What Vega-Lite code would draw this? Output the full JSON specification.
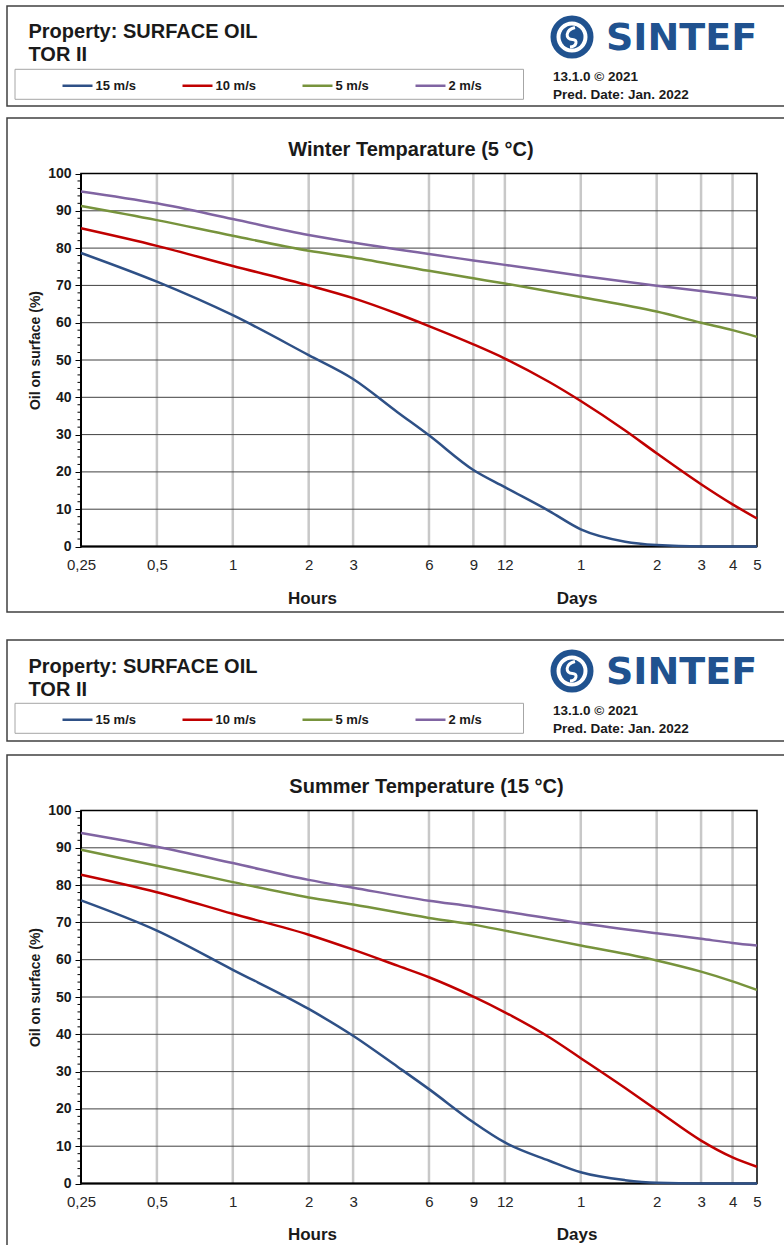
{
  "$schema": "https://vega.github.io/schema/vega-lite/v6.json",
  "padding": {"left": 6, "top": 5, "right": 0, "bottom": 0},
  "background": "white",
  "config": {
    "font": "Liberation Sans",
    "view": {"stroke": "#404040", "strokeWidth": 1.5}
  },
  "datasets": {
    "header": [{"prop": "Property: SURFACE OIL", "oil": "TOR II", "version": "13.1.0 © 2021", "pred": "Pred. Date: Jan. 2022", "logo": "SINTEF"}],
    "one": [{"k": 1}],
    "vgrid": [{"t": 0.5}, {"t": 1}, {"t": 2}, {"t": 3}, {"t": 6}, {"t": 9}, {"t": 12}, {"t": 24}, {"t": 48}, {"t": 72}, {"t": 96}],
    "hgrid": [{"v": 10}, {"v": 20}, {"v": 30}, {"v": 40}, {"v": 50}, {"v": 60}, {"v": 70}, {"v": 80}, {"v": 90}],
    "minor": [{"v": 2}, {"v": 4}, {"v": 6}, {"v": 8}, {"v": 12}, {"v": 14}, {"v": 16}, {"v": 18}, {"v": 22}, {"v": 24}, {"v": 26}, {"v": 28}, {"v": 32}, {"v": 34}, {"v": 36}, {"v": 38}, {"v": 42}, {"v": 44}, {"v": 46}, {"v": 48}, {"v": 52}, {"v": 54}, {"v": 56}, {"v": 58}, {"v": 62}, {"v": 64}, {"v": 66}, {"v": 68}, {"v": 72}, {"v": 74}, {"v": 76}, {"v": 78}, {"v": 82}, {"v": 84}, {"v": 86}, {"v": 88}, {"v": 92}, {"v": 94}, {"v": 96}, {"v": 98}],
    "winter": [
      {"wind": "15 m/s", "t": 0.25, "oil": 78.7}, {"wind": "15 m/s", "t": 0.5, "oil": 71.0}, {"wind": "15 m/s", "t": 1, "oil": 62.0}, {"wind": "15 m/s", "t": 2, "oil": 51.3}, {"wind": "15 m/s", "t": 3, "oil": 44.9}, {"wind": "15 m/s", "t": 4.5, "oil": 36.0}, {"wind": "15 m/s", "t": 6, "oil": 29.8}, {"wind": "15 m/s", "t": 9, "oil": 20.5}, {"wind": "15 m/s", "t": 12, "oil": 15.9}, {"wind": "15 m/s", "t": 18, "oil": 9.5}, {"wind": "15 m/s", "t": 24, "oil": 4.6}, {"wind": "15 m/s", "t": 36, "oil": 1.3}, {"wind": "15 m/s", "t": 48, "oil": 0.4}, {"wind": "15 m/s", "t": 72, "oil": 0}, {"wind": "15 m/s", "t": 96, "oil": 0}, {"wind": "15 m/s", "t": 120, "oil": 0},
      {"wind": "10 m/s", "t": 0.25, "oil": 85.3}, {"wind": "10 m/s", "t": 0.5, "oil": 80.6}, {"wind": "10 m/s", "t": 1, "oil": 75.2}, {"wind": "10 m/s", "t": 2, "oil": 70.0}, {"wind": "10 m/s", "t": 3, "oil": 66.6}, {"wind": "10 m/s", "t": 4.5, "oil": 62.4}, {"wind": "10 m/s", "t": 6, "oil": 59.1}, {"wind": "10 m/s", "t": 9, "oil": 54.2}, {"wind": "10 m/s", "t": 12, "oil": 50.4}, {"wind": "10 m/s", "t": 18, "oil": 44.1}, {"wind": "10 m/s", "t": 24, "oil": 39.0}, {"wind": "10 m/s", "t": 36, "oil": 31.1}, {"wind": "10 m/s", "t": 48, "oil": 25.0}, {"wind": "10 m/s", "t": 72, "oil": 16.7}, {"wind": "10 m/s", "t": 96, "oil": 11.3}, {"wind": "10 m/s", "t": 120, "oil": 7.5},
      {"wind": "5 m/s", "t": 0.25, "oil": 91.3}, {"wind": "5 m/s", "t": 0.5, "oil": 87.5}, {"wind": "5 m/s", "t": 1, "oil": 83.3}, {"wind": "5 m/s", "t": 2, "oil": 79.3}, {"wind": "5 m/s", "t": 3, "oil": 77.5}, {"wind": "5 m/s", "t": 6, "oil": 73.9}, {"wind": "5 m/s", "t": 9, "oil": 71.9}, {"wind": "5 m/s", "t": 12, "oil": 70.5}, {"wind": "5 m/s", "t": 24, "oil": 66.9}, {"wind": "5 m/s", "t": 48, "oil": 63.0}, {"wind": "5 m/s", "t": 72, "oil": 60.0}, {"wind": "5 m/s", "t": 96, "oil": 58.0}, {"wind": "5 m/s", "t": 120, "oil": 56.2},
      {"wind": "2 m/s", "t": 0.25, "oil": 95.2}, {"wind": "2 m/s", "t": 0.5, "oil": 92.0}, {"wind": "2 m/s", "t": 1, "oil": 87.8}, {"wind": "2 m/s", "t": 2, "oil": 83.5}, {"wind": "2 m/s", "t": 3, "oil": 81.5}, {"wind": "2 m/s", "t": 6, "oil": 78.4}, {"wind": "2 m/s", "t": 9, "oil": 76.7}, {"wind": "2 m/s", "t": 12, "oil": 75.5}, {"wind": "2 m/s", "t": 24, "oil": 72.6}, {"wind": "2 m/s", "t": 48, "oil": 69.9}, {"wind": "2 m/s", "t": 72, "oil": 68.5}, {"wind": "2 m/s", "t": 96, "oil": 67.4}, {"wind": "2 m/s", "t": 120, "oil": 66.6}
    ],
    "summer": [
      {"wind": "15 m/s", "t": 0.25, "oil": 75.9}, {"wind": "15 m/s", "t": 0.5, "oil": 67.8}, {"wind": "15 m/s", "t": 1, "oil": 57.3}, {"wind": "15 m/s", "t": 2, "oil": 46.8}, {"wind": "15 m/s", "t": 3, "oil": 39.6}, {"wind": "15 m/s", "t": 4.5, "oil": 31.3}, {"wind": "15 m/s", "t": 6, "oil": 25.3}, {"wind": "15 m/s", "t": 9, "oil": 16.4}, {"wind": "15 m/s", "t": 12, "oil": 11.0}, {"wind": "15 m/s", "t": 18, "oil": 6.1}, {"wind": "15 m/s", "t": 24, "oil": 3.0}, {"wind": "15 m/s", "t": 36, "oil": 0.9}, {"wind": "15 m/s", "t": 48, "oil": 0.2}, {"wind": "15 m/s", "t": 72, "oil": 0}, {"wind": "15 m/s", "t": 96, "oil": 0}, {"wind": "15 m/s", "t": 120, "oil": 0},
      {"wind": "10 m/s", "t": 0.25, "oil": 82.8}, {"wind": "10 m/s", "t": 0.5, "oil": 78.1}, {"wind": "10 m/s", "t": 1, "oil": 72.3}, {"wind": "10 m/s", "t": 2, "oil": 66.7}, {"wind": "10 m/s", "t": 3, "oil": 62.7}, {"wind": "10 m/s", "t": 4.5, "oil": 58.4}, {"wind": "10 m/s", "t": 6, "oil": 55.3}, {"wind": "10 m/s", "t": 9, "oil": 50.1}, {"wind": "10 m/s", "t": 12, "oil": 45.9}, {"wind": "10 m/s", "t": 18, "oil": 39.2}, {"wind": "10 m/s", "t": 24, "oil": 33.6}, {"wind": "10 m/s", "t": 36, "oil": 25.6}, {"wind": "10 m/s", "t": 48, "oil": 19.7}, {"wind": "10 m/s", "t": 72, "oil": 11.5}, {"wind": "10 m/s", "t": 96, "oil": 7.0}, {"wind": "10 m/s", "t": 120, "oil": 4.5},
      {"wind": "5 m/s", "t": 0.25, "oil": 89.5}, {"wind": "5 m/s", "t": 0.5, "oil": 85.2}, {"wind": "5 m/s", "t": 1, "oil": 80.8}, {"wind": "5 m/s", "t": 2, "oil": 76.7}, {"wind": "5 m/s", "t": 3, "oil": 74.8}, {"wind": "5 m/s", "t": 6, "oil": 71.2}, {"wind": "5 m/s", "t": 9, "oil": 69.4}, {"wind": "5 m/s", "t": 12, "oil": 67.8}, {"wind": "5 m/s", "t": 24, "oil": 63.8}, {"wind": "5 m/s", "t": 48, "oil": 59.8}, {"wind": "5 m/s", "t": 72, "oil": 56.8}, {"wind": "5 m/s", "t": 96, "oil": 54.2}, {"wind": "5 m/s", "t": 120, "oil": 51.9},
      {"wind": "2 m/s", "t": 0.25, "oil": 94.0}, {"wind": "2 m/s", "t": 0.5, "oil": 90.3}, {"wind": "2 m/s", "t": 1, "oil": 85.9}, {"wind": "2 m/s", "t": 2, "oil": 81.4}, {"wind": "2 m/s", "t": 3, "oil": 79.3}, {"wind": "2 m/s", "t": 6, "oil": 75.8}, {"wind": "2 m/s", "t": 9, "oil": 74.2}, {"wind": "2 m/s", "t": 12, "oil": 72.9}, {"wind": "2 m/s", "t": 24, "oil": 69.8}, {"wind": "2 m/s", "t": 48, "oil": 67.1}, {"wind": "2 m/s", "t": 72, "oil": 65.6}, {"wind": "2 m/s", "t": 96, "oil": 64.5}, {"wind": "2 m/s", "t": 120, "oil": 63.8}
    ]
  },
  "resolve": {"scale": {"color": "independent"}, "legend": {"color": "independent"}},
  "spacing": 26,
  "vconcat": [
    {
      "spacing": 10,
      "vconcat": [
        {
          "width": 778, "height": 100,
          "data": {"name": "header"},
          "layer": [
            {"mark": {"type": "rect", "fill": "white", "fillOpacity": 0, "stroke": "#a6a6a6", "strokeWidth": 1},
             "encoding": {"x": {"datum": 8, "type": "quantitative", "scale": {"domain": [0, 778], "nice": false}, "axis": null}, "x2": {"datum": 516.5},
                          "y": {"datum": 63.3, "type": "quantitative", "scale": {"domain": [0, 100], "nice": false, "reverse": true}, "axis": null}, "y2": {"datum": 93.3}}},
            {"mark": {"type": "text", "fontWeight": "bold", "fontSize": 20, "color": "#1a1a1a", "align": "left", "baseline": "alphabetic"},
             "encoding": {"x": {"datum": 21.5, "type": "quantitative", "scale": {"domain": [0, 778], "nice": false}, "axis": null},
                          "y": {"datum": 32, "type": "quantitative", "scale": {"domain": [0, 100], "nice": false, "reverse": true}, "axis": null},
                          "text": {"field": "prop"}}},
            {"mark": {"type": "text", "fontWeight": "bold", "fontSize": 20, "color": "#1a1a1a", "align": "left", "baseline": "alphabetic"},
             "encoding": {"x": {"datum": 21.5, "type": "quantitative", "scale": {"domain": [0, 778], "nice": false}, "axis": null},
                          "y": {"datum": 55, "type": "quantitative", "scale": {"domain": [0, 100], "nice": false, "reverse": true}, "axis": null},
                          "text": {"field": "oil"}}},
            {"mark": {"type": "point", "shape": "circle", "filled": false, "size": 1369, "stroke": "#20528F", "strokeWidth": 6, "opacity": 1},
             "encoding": {"x": {"datum": 565, "type": "quantitative", "scale": {"domain": [0, 778], "nice": false}, "axis": null},
                          "y": {"datum": 31, "type": "quantitative", "scale": {"domain": [0, 100], "nice": false, "reverse": true}, "axis": null}}},
            {"mark": {"type": "point", "shape": "circle", "filled": true, "size": 529, "color": "#20528F", "opacity": 1},
             "encoding": {"x": {"datum": 565, "type": "quantitative", "scale": {"domain": [0, 778], "nice": false}, "axis": null},
                          "y": {"datum": 31, "type": "quantitative", "scale": {"domain": [0, 100], "nice": false, "reverse": true}, "axis": null}}},
            {"mark": {"type": "point", "shape": "M 0.3 -0.95 C -0.7 -0.7 -0.7 0.25 0.05 0.25 C 0.6 0.25 0.5 0.95 -0.2 1", "filled": false, "size": 400, "stroke": "white", "strokeWidth": 3, "opacity": 1},
             "encoding": {"x": {"datum": 565, "type": "quantitative", "scale": {"domain": [0, 778], "nice": false}, "axis": null},
                          "y": {"datum": 31, "type": "quantitative", "scale": {"domain": [0, 100], "nice": false, "reverse": true}, "axis": null}}},
            {"mark": {"type": "text", "font": "DejaVu Sans", "fontWeight": "bold", "fontSize": 38, "color": "#20528F", "align": "left", "baseline": "alphabetic"},
             "encoding": {"x": {"datum": 599, "type": "quantitative", "scale": {"domain": [0, 778], "nice": false}, "axis": null},
                          "y": {"datum": 44, "type": "quantitative", "scale": {"domain": [0, 100], "nice": false, "reverse": true}, "axis": null},
                          "text": {"field": "logo"}}},
            {"mark": {"type": "text", "fontWeight": "bold", "fontSize": 13.5, "color": "#1a1a1a", "align": "left", "baseline": "alphabetic"},
             "encoding": {"x": {"datum": 546, "type": "quantitative", "scale": {"domain": [0, 778], "nice": false}, "axis": null},
                          "y": {"datum": 74.5, "type": "quantitative", "scale": {"domain": [0, 100], "nice": false, "reverse": true}, "axis": null},
                          "text": {"field": "version"}}},
            {"mark": {"type": "text", "fontWeight": "bold", "fontSize": 13.5, "color": "#1a1a1a", "align": "left", "baseline": "alphabetic"},
             "encoding": {"x": {"datum": 546, "type": "quantitative", "scale": {"domain": [0, 778], "nice": false}, "axis": null},
                          "y": {"datum": 93, "type": "quantitative", "scale": {"domain": [0, 100], "nice": false, "reverse": true}, "axis": null},
                          "text": {"field": "pred"}}}
          ]
        },
        {
          "width": 778, "height": 494,
          "layer": [
            {"data": {"name": "vgrid"}, "mark": {"type": "rule", "color": "#c8c8c8", "strokeWidth": 2.5},
             "encoding": {"x": {"field": "t", "type": "quantitative", "scale": {"type": "log", "domain": [0.12719, 154.97], "nice": false}},
                          "y": {"datum": 0, "type": "quantitative", "scale": {"domain": [-17.56, 114.88], "nice": false, "zero": false}}, "y2": {"datum": 100}}},
            {"data": {"name": "hgrid"}, "mark": {"type": "rule", "color": "#404040", "strokeWidth": 1},
             "encoding": {"y": {"field": "v", "type": "quantitative", "scale": {"domain": [-17.56, 114.88], "nice": false, "zero": false}},
                          "x": {"datum": 0.25, "type": "quantitative", "scale": {"type": "log", "domain": [0.12719, 154.97], "nice": false}}, "x2": {"datum": 120}}},
            {"data": {"name": "minor"}, "mark": {"type": "rule", "color": "#000000", "strokeWidth": 1, "x2Offset": -3.5},
             "encoding": {"y": {"field": "v", "type": "quantitative", "scale": {"domain": [-17.56, 114.88], "nice": false, "zero": false}},
                          "x": {"datum": 0.25, "type": "quantitative", "scale": {"type": "log", "domain": [0.12719, 154.97], "nice": false}}, "x2": {"datum": 0.25}}},
            {"data": {"name": "one"}, "mark": {"type": "rect", "fill": "white", "fillOpacity": 0, "stroke": "#000000", "strokeWidth": 1.5},
             "encoding": {"x": {"datum": 0.25, "type": "quantitative", "scale": {"type": "log", "domain": [0.12719, 154.97], "nice": false}}, "x2": {"datum": 120},
                          "y": {"datum": 0, "type": "quantitative", "scale": {"domain": [-17.56, 114.88], "nice": false, "zero": false}}, "y2": {"datum": 100}}},
            {"data": {"name": "one"}, "mark": {"type": "rule", "color": "#000000", "strokeWidth": 2},
             "encoding": {"x": {"datum": 0.25, "type": "quantitative", "scale": {"type": "log", "domain": [0.12719, 154.97], "nice": false}}, "x2": {"datum": 120},
                          "y": {"datum": 0, "type": "quantitative", "scale": {"domain": [-17.56, 114.88], "nice": false, "zero": false}}}},
            {"data": {"name": "one"}, "mark": {"type": "rule", "color": "#000000", "strokeWidth": 2},
             "encoding": {"x": {"datum": 0.25, "type": "quantitative", "scale": {"type": "log", "domain": [0.12719, 154.97], "nice": false}},
                          "y": {"datum": 0, "type": "quantitative", "scale": {"domain": [-17.56, 114.88], "nice": false, "zero": false}}, "y2": {"datum": 100}}},
            {"data": {"values": [{"title": "Winter Temparature (5 °C)"}]}, "mark": {"type": "text", "fontSize": 20, "fontWeight": "bold", "baseline": "alphabetic", "align": "center", "color": "#1a1a1a"},
             "encoding": {"x": {"datum": 5.09, "type": "quantitative", "scale": {"type": "log", "domain": [0.12719, 154.97], "nice": false}},
                          "y": {"datum": 104.69, "type": "quantitative", "scale": {"domain": [-17.56, 114.88], "nice": false, "zero": false}},
                          "text": {"field": "title"}}},
            {"data": {"values": [{"unit": "Hours"}]}, "mark": {"type": "text", "fontSize": 17, "fontWeight": "bold", "dy": 57, "baseline": "alphabetic", "align": "center", "color": "#1a1a1a"},
             "encoding": {"x": {"datum": 2.07, "type": "quantitative", "scale": {"type": "log", "domain": [0.12719, 154.97], "nice": false}},
                          "y": {"datum": 0, "type": "quantitative", "scale": {"domain": [-17.56, 114.88], "nice": false, "zero": false}},
                          "text": {"field": "unit"}}},
            {"data": {"values": [{"unit": "Days"}]}, "mark": {"type": "text", "fontSize": 17, "fontWeight": "bold", "dy": 57, "baseline": "alphabetic", "align": "center", "color": "#1a1a1a"},
             "encoding": {"x": {"datum": 23.2, "type": "quantitative", "scale": {"type": "log", "domain": [0.12719, 154.97], "nice": false}},
                          "y": {"datum": 0, "type": "quantitative", "scale": {"domain": [-17.56, 114.88], "nice": false, "zero": false}},
                          "text": {"field": "unit"}}},
            {"data": {"name": "winter"}, "mark": {"type": "line", "interpolate": "monotone", "strokeWidth": 2.5},
             "encoding": {
               "x": {"field": "t", "type": "quantitative", "scale": {"type": "log", "domain": [0.12719, 154.97], "nice": false},
                     "axis": {"values": [0.25, 0.5, 1, 2, 3, 6, 9, 12, 24, 48, 72, 96, 120], "labelExpr": "datum.value < 1 ? replace(toString(datum.value), '.', ',') : toString(datum.value >= 24 ? datum.value / 24 : datum.value)", "orient": "bottom", "offset": -65.5, "domain": false, "ticks": false, "tickSize": 0, "grid": false, "labelPadding": 11, "labelFontSize": 15, "labelColor": "#262626", "labelFlush": false, "labelOverlap": false, "labelBound": false, "title": null}},
               "y": {"field": "oil", "type": "quantitative", "scale": {"domain": [-17.56, 114.88], "nice": false, "zero": false},
                     "axis": {"values": [0, 10, 20, 30, 40, 50, 60, 70, 80, 90, 100], "orient": "left", "offset": -74, "domain": false, "ticks": true, "tickSize": 6, "tickColor": "#000000", "tickWidth": 1, "grid": false, "labelPadding": 4, "labelFontSize": 14, "labelFontWeight": "bold", "labelColor": "#1a1a1a", "labelFlush": false, "labelOverlap": false, "labelBound": false, "title": "Oil on surface (%)", "titleFontSize": 14, "titleFontWeight": "bold", "titleColor": "#1a1a1a", "titleX": -41.5, "titleY": 232, "titleBaseline": "alphabetic", "titleAngle": 270, "titleAlign": "center"}},
               "color": {"field": "wind", "type": "nominal", "scale": {"domain": ["15 m/s", "10 m/s", "5 m/s", "2 m/s"], "range": ["#2E5086", "#C00000", "#77933C", "#8064A2"]},
                         "legend": {"orient": "none", "direction": "horizontal", "legendX": 54, "legendY": 63, "title": null, "symbolType": "stroke", "symbolSize": 900, "symbolStrokeWidth": 2.5, "labelFontSize": 13, "labelFontWeight": "bold", "labelColor": "#1a1a1a", "columnPadding": 41, "labelOffset": 1.5, "padding": 0}}
             }}
          ]
        }
      ]
    },
    {
      "spacing": 12,
      "vconcat": [
        {
          "width": 778, "height": 101,
          "data": {"name": "header"},
          "layer": [
            {"mark": {"type": "rect", "fill": "white", "fillOpacity": 0, "stroke": "#a6a6a6", "strokeWidth": 1},
             "encoding": {"x": {"datum": 8, "type": "quantitative", "scale": {"domain": [0, 778], "nice": false}, "axis": null}, "x2": {"datum": 516.5},
                          "y": {"datum": 63.3, "type": "quantitative", "scale": {"domain": [0, 101], "nice": false, "reverse": true}, "axis": null}, "y2": {"datum": 93.3}}},
            {"mark": {"type": "text", "fontWeight": "bold", "fontSize": 20, "color": "#1a1a1a", "align": "left", "baseline": "alphabetic"},
             "encoding": {"x": {"datum": 21.5, "type": "quantitative", "scale": {"domain": [0, 778], "nice": false}, "axis": null},
                          "y": {"datum": 33, "type": "quantitative", "scale": {"domain": [0, 101], "nice": false, "reverse": true}, "axis": null},
                          "text": {"field": "prop"}}},
            {"mark": {"type": "text", "fontWeight": "bold", "fontSize": 20, "color": "#1a1a1a", "align": "left", "baseline": "alphabetic"},
             "encoding": {"x": {"datum": 21.5, "type": "quantitative", "scale": {"domain": [0, 778], "nice": false}, "axis": null},
                          "y": {"datum": 56, "type": "quantitative", "scale": {"domain": [0, 101], "nice": false, "reverse": true}, "axis": null},
                          "text": {"field": "oil"}}},
            {"mark": {"type": "point", "shape": "circle", "filled": false, "size": 1369, "stroke": "#20528F", "strokeWidth": 6, "opacity": 1},
             "encoding": {"x": {"datum": 565, "type": "quantitative", "scale": {"domain": [0, 778], "nice": false}, "axis": null},
                          "y": {"datum": 31, "type": "quantitative", "scale": {"domain": [0, 101], "nice": false, "reverse": true}, "axis": null}}},
            {"mark": {"type": "point", "shape": "circle", "filled": true, "size": 529, "color": "#20528F", "opacity": 1},
             "encoding": {"x": {"datum": 565, "type": "quantitative", "scale": {"domain": [0, 778], "nice": false}, "axis": null},
                          "y": {"datum": 31, "type": "quantitative", "scale": {"domain": [0, 101], "nice": false, "reverse": true}, "axis": null}}},
            {"mark": {"type": "point", "shape": "M 0.3 -0.95 C -0.7 -0.7 -0.7 0.25 0.05 0.25 C 0.6 0.25 0.5 0.95 -0.2 1", "filled": false, "size": 400, "stroke": "white", "strokeWidth": 3, "opacity": 1},
             "encoding": {"x": {"datum": 565, "type": "quantitative", "scale": {"domain": [0, 778], "nice": false}, "axis": null},
                          "y": {"datum": 31, "type": "quantitative", "scale": {"domain": [0, 101], "nice": false, "reverse": true}, "axis": null}}},
            {"mark": {"type": "text", "font": "DejaVu Sans", "fontWeight": "bold", "fontSize": 38, "color": "#20528F", "align": "left", "baseline": "alphabetic"},
             "encoding": {"x": {"datum": 599, "type": "quantitative", "scale": {"domain": [0, 778], "nice": false}, "axis": null},
                          "y": {"datum": 44, "type": "quantitative", "scale": {"domain": [0, 101], "nice": false, "reverse": true}, "axis": null},
                          "text": {"field": "logo"}}},
            {"mark": {"type": "text", "fontWeight": "bold", "fontSize": 13.5, "color": "#1a1a1a", "align": "left", "baseline": "alphabetic"},
             "encoding": {"x": {"datum": 546, "type": "quantitative", "scale": {"domain": [0, 778], "nice": false}, "axis": null},
                          "y": {"datum": 74.5, "type": "quantitative", "scale": {"domain": [0, 101], "nice": false, "reverse": true}, "axis": null},
                          "text": {"field": "version"}}},
            {"mark": {"type": "text", "fontWeight": "bold", "fontSize": 13.5, "color": "#1a1a1a", "align": "left", "baseline": "alphabetic"},
             "encoding": {"x": {"datum": 546, "type": "quantitative", "scale": {"domain": [0, 778], "nice": false}, "axis": null},
                          "y": {"datum": 93, "type": "quantitative", "scale": {"domain": [0, 101], "nice": false, "reverse": true}, "axis": null},
                          "text": {"field": "pred"}}}
          ]
        },
        {
          "width": 778, "height": 491,
          "layer": [
            {"data": {"name": "vgrid"}, "mark": {"type": "rule", "color": "#c8c8c8", "strokeWidth": 2.5},
             "encoding": {"x": {"field": "t", "type": "quantitative", "scale": {"type": "log", "domain": [0.12719, 154.97], "nice": false}},
                          "y": {"datum": 0, "type": "quantitative", "scale": {"domain": [-16.756, 114.88], "nice": false, "zero": false}}, "y2": {"datum": 100}}},
            {"data": {"name": "hgrid"}, "mark": {"type": "rule", "color": "#404040", "strokeWidth": 1},
             "encoding": {"y": {"field": "v", "type": "quantitative", "scale": {"domain": [-16.756, 114.88], "nice": false, "zero": false}},
                          "x": {"datum": 0.25, "type": "quantitative", "scale": {"type": "log", "domain": [0.12719, 154.97], "nice": false}}, "x2": {"datum": 120}}},
            {"data": {"name": "minor"}, "mark": {"type": "rule", "color": "#000000", "strokeWidth": 1, "x2Offset": -3.5},
             "encoding": {"y": {"field": "v", "type": "quantitative", "scale": {"domain": [-16.756, 114.88], "nice": false, "zero": false}},
                          "x": {"datum": 0.25, "type": "quantitative", "scale": {"type": "log", "domain": [0.12719, 154.97], "nice": false}}, "x2": {"datum": 0.25}}},
            {"data": {"name": "one"}, "mark": {"type": "rect", "fill": "white", "fillOpacity": 0, "stroke": "#000000", "strokeWidth": 1.5},
             "encoding": {"x": {"datum": 0.25, "type": "quantitative", "scale": {"type": "log", "domain": [0.12719, 154.97], "nice": false}}, "x2": {"datum": 120},
                          "y": {"datum": 0, "type": "quantitative", "scale": {"domain": [-16.756, 114.88], "nice": false, "zero": false}}, "y2": {"datum": 100}}},
            {"data": {"name": "one"}, "mark": {"type": "rule", "color": "#000000", "strokeWidth": 2},
             "encoding": {"x": {"datum": 0.25, "type": "quantitative", "scale": {"type": "log", "domain": [0.12719, 154.97], "nice": false}}, "x2": {"datum": 120},
                          "y": {"datum": 0, "type": "quantitative", "scale": {"domain": [-16.756, 114.88], "nice": false, "zero": false}}}},
            {"data": {"name": "one"}, "mark": {"type": "rule", "color": "#000000", "strokeWidth": 2},
             "encoding": {"x": {"datum": 0.25, "type": "quantitative", "scale": {"type": "log", "domain": [0.12719, 154.97], "nice": false}},
                          "y": {"datum": 0, "type": "quantitative", "scale": {"domain": [-16.756, 114.88], "nice": false, "zero": false}}, "y2": {"datum": 100}}},
            {"data": {"values": [{"title": "Summer Temperature (15 °C)"}]}, "mark": {"type": "text", "fontSize": 20, "fontWeight": "bold", "baseline": "alphabetic", "align": "center", "color": "#1a1a1a"},
             "encoding": {"x": {"datum": 5.867, "type": "quantitative", "scale": {"type": "log", "domain": [0.12719, 154.97], "nice": false}},
                          "y": {"datum": 104.61, "type": "quantitative", "scale": {"domain": [-16.756, 114.88], "nice": false, "zero": false}},
                          "text": {"field": "title"}}},
            {"data": {"values": [{"unit": "Hours"}]}, "mark": {"type": "text", "fontSize": 17, "fontWeight": "bold", "dy": 56, "baseline": "alphabetic", "align": "center", "color": "#1a1a1a"},
             "encoding": {"x": {"datum": 2.07, "type": "quantitative", "scale": {"type": "log", "domain": [0.12719, 154.97], "nice": false}},
                          "y": {"datum": 0, "type": "quantitative", "scale": {"domain": [-16.756, 114.88], "nice": false, "zero": false}},
                          "text": {"field": "unit"}}},
            {"data": {"values": [{"unit": "Days"}]}, "mark": {"type": "text", "fontSize": 17, "fontWeight": "bold", "dy": 56, "baseline": "alphabetic", "align": "center", "color": "#1a1a1a"},
             "encoding": {"x": {"datum": 23.2, "type": "quantitative", "scale": {"type": "log", "domain": [0.12719, 154.97], "nice": false}},
                          "y": {"datum": 0, "type": "quantitative", "scale": {"domain": [-16.756, 114.88], "nice": false, "zero": false}},
                          "text": {"field": "unit"}}},
            {"data": {"name": "summer"}, "mark": {"type": "line", "interpolate": "monotone", "strokeWidth": 2.5},
             "encoding": {
               "x": {"field": "t", "type": "quantitative", "scale": {"type": "log", "domain": [0.12719, 154.97], "nice": false},
                     "axis": {"values": [0.25, 0.5, 1, 2, 3, 6, 9, 12, 24, 48, 72, 96, 120], "labelExpr": "datum.value < 1 ? replace(toString(datum.value), '.', ',') : toString(datum.value >= 24 ? datum.value / 24 : datum.value)", "orient": "bottom", "offset": -62.5, "domain": false, "ticks": false, "tickSize": 0, "grid": false, "labelPadding": 11, "labelFontSize": 15, "labelColor": "#262626", "labelFlush": false, "labelOverlap": false, "labelBound": false, "title": null}},
               "y": {"field": "oil", "type": "quantitative", "scale": {"domain": [-16.756, 114.88], "nice": false, "zero": false},
                     "axis": {"values": [0, 10, 20, 30, 40, 50, 60, 70, 80, 90, 100], "orient": "left", "offset": -74, "domain": false, "ticks": true, "tickSize": 6, "tickColor": "#000000", "tickWidth": 1, "grid": false, "labelPadding": 4, "labelFontSize": 14, "labelFontWeight": "bold", "labelColor": "#1a1a1a", "labelFlush": false, "labelOverlap": false, "labelBound": false, "title": "Oil on surface (%)", "titleFontSize": 14, "titleFontWeight": "bold", "titleColor": "#1a1a1a", "titleX": -41.5, "titleY": 232, "titleBaseline": "alphabetic", "titleAngle": 270, "titleAlign": "center"}},
               "color": {"field": "wind", "type": "nominal", "scale": {"domain": ["15 m/s", "10 m/s", "5 m/s", "2 m/s"], "range": ["#2E5086", "#C00000", "#77933C", "#8064A2"]},
                         "legend": {"orient": "none", "direction": "horizontal", "legendX": 54, "legendY": 63, "title": null, "symbolType": "stroke", "symbolSize": 900, "symbolStrokeWidth": 2.5, "labelFontSize": 13, "labelFontWeight": "bold", "labelColor": "#1a1a1a", "columnPadding": 41, "labelOffset": 1.5, "padding": 0}}
             }}
          ]
        }
      ]
    }
  ]
}
